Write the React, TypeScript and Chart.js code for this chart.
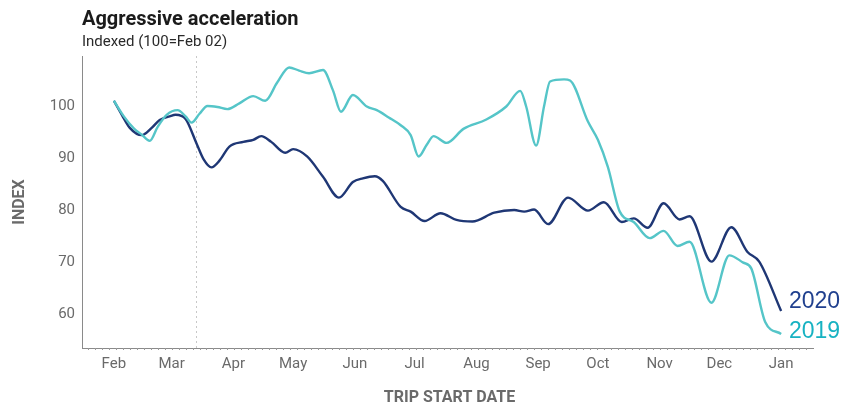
import React, { useEffect, useRef } from "react";
import { Chart, registerables } from "chart.js";

Chart.register(...registerables);

// Day offsets from Feb 1 (2020 calendar), values indexed to 100 = Feb 02
const monthLabels = ["Feb", "Mar", "Apr", "May", "Jun", "Jul", "Aug", "Sep", "Oct", "Nov", "Dec", "Jan"];
const monthStartDays = [0, 29, 60, 90, 121, 151, 182, 213, 243, 274, 304, 335];
const yTicks = [60, 70, 80, 90, 100];
const emergencyDay = 41;

const days2020 = [0, 4, 8, 14, 19, 23, 28, 31, 36, 41.5, 45, 49, 53, 58, 65, 70, 74, 79, 86, 90, 97, 105, 113, 120, 125, 131, 135, 144, 149, 156, 164, 172, 180, 191, 201, 206, 211, 218, 228, 238, 246, 255, 261, 268, 276, 284, 289, 300, 310, 318, 324, 335];
const values2020 = [101, 98.3, 95.8, 94.4, 95.8, 97.3, 98.0, 98.3, 97.5, 92.8, 89.8, 88.2, 89.5, 92.2, 93.1, 93.5, 94.2, 93.1, 91.0, 91.7, 90.3, 86.4, 82.4, 85.4, 86.1, 86.5, 85.6, 80.6, 79.7, 77.9, 79.4, 78.1, 77.8, 79.5, 80.0, 79.7, 80.1, 77.3, 82.4, 79.9, 81.5, 77.7, 78.4, 76.6, 81.3, 78.2, 78.8, 70.1, 76.7, 72.0, 70.1, 60.6];

const days2019 = [0, 5, 10, 14, 18, 22, 26.5, 32, 36, 39, 43, 47, 52, 57, 63, 70, 76, 82, 88, 93, 98, 105, 110, 114, 120, 127, 132, 138, 144, 149, 153, 157, 160.5, 167, 175.5, 187, 197, 204, 207, 212, 216, 219, 226, 229, 238, 243, 248, 254, 261, 269, 276, 283, 289, 300, 309, 316, 320, 327, 335];
const values2019 = [101, 98, 95.7, 94.5, 93.3, 96, 98.3, 99.2, 98, 96.8, 98.5, 100, 99.8, 99.4, 100.5, 101.9, 101, 104.5, 107.4, 106.8, 106.3, 106.9, 103, 98.9, 102.1, 99.9, 99.2, 97.8, 96.3, 94.4, 90.3, 92.5, 94.2, 92.9, 95.6, 97.4, 99.9, 102.9, 99.9, 92.4, 100, 104.7, 105.1, 104.9, 97.0, 93.5, 88.3, 79.7, 77.7, 74.6, 76.0, 73.1, 73.9, 62.2, 71.3, 69.9, 68.8, 58.5, 56.2];

const NAVY = "#1f3775";
const NAVY_LABEL = "#20408e";
const TEAL = "#55c5c8";
const TEAL_LABEL = "#17b2c2";
const GRAY = "#6a6a6a";

const overlayPlugin = {
  id: "overlay",
  beforeDatasetsDraw(chart: any) {
    const { ctx, chartArea, scales } = chart;
    const x = scales.x.getPixelForValue(emergencyDay);
    ctx.save();
    ctx.strokeStyle = "#c8c8c8";
    ctx.lineWidth = 1;
    ctx.setLineDash([2, 3]);
    ctx.beginPath();
    ctx.moveTo(Math.round(x) + 0.5, chartArea.top);
    ctx.lineTo(Math.round(x) + 0.5, chartArea.bottom);
    ctx.stroke();
    ctx.restore();
  },
  afterDraw(chart: any) {
    const { ctx, chartArea, scales } = chart;
    ctx.save();
    // minor ticks along x axis
    ctx.strokeStyle = "#9a9a9a";
    ctx.lineWidth = 1;
    const xs = scales.x;
    for (let d = xs.min + 3; d < xs.max; d += 3.5) {
      const px = Math.round(xs.getPixelForValue(d)) + 0.5;
      ctx.beginPath();
      ctx.moveTo(px, chartArea.bottom);
      ctx.lineTo(px, chartArea.bottom + 2);
      ctx.stroke();
    }
    // title & subtitle
    ctx.fillStyle = "#1b1b1b";
    ctx.textAlign = "left";
    ctx.textBaseline = "alphabetic";
    ctx.font = "bold 20px Roboto";
    ctx.fillText("Aggressive acceleration", 82, 25);
    ctx.fillStyle = "#2a2a2a";
    ctx.font = "15px Roboto";
    ctx.fillText("Indexed (100=Feb 02)", 82, 46);
    // axis titles
    ctx.fillStyle = GRAY;
    ctx.font = "bold 16px Roboto";
    ctx.textAlign = "center";
    ctx.textBaseline = "middle";
    ctx.fillText("TRIP START DATE", (chartArea.left + chartArea.right) / 2 + 2, 398);
    ctx.save();
    ctx.translate(20, 202);
    ctx.rotate(-Math.PI / 2);
    ctx.fillText("INDEX", 0, 0);
    ctx.restore();
    // series end labels
    ctx.textAlign = "left";
    ctx.font = "23px 'Liberation Sans'";
    ctx.fillStyle = NAVY_LABEL;
    ctx.fillText("2020", 789, 302);
    ctx.fillStyle = TEAL_LABEL;
    ctx.fillText("2019", 789, 332);
    ctx.restore();
  },
};

export default function App() {
  const canvasRef = useRef<HTMLCanvasElement | null>(null);

  useEffect(() => {
    document.body.style.margin = "0";
    const canvas = canvasRef.current;
    if (!canvas) return;
    const chart = new Chart(canvas, {
      type: "line",
      data: {
        datasets: [
          {
            label: "2019",
            data: days2019.map((d, i) => ({ x: d, y: values2019[i] })),
            borderColor: TEAL,
            borderWidth: 2.4,
            pointRadius: 0,
            cubicInterpolationMode: "monotone",
            fill: false,
          },
          {
            label: "2020",
            data: days2020.map((d, i) => ({ x: d, y: values2020[i] })),
            borderColor: NAVY,
            borderWidth: 2.4,
            pointRadius: 0,
            cubicInterpolationMode: "monotone",
            fill: false,
          },
        ],
      },
      options: {
        responsive: false,
        animation: false,
        devicePixelRatio: 1,
        layout: { padding: { top: 56, right: 31, bottom: 0, left: 0 } },
        plugins: {
          legend: { display: false },
          tooltip: { enabled: false },
          title: { display: false },
        },
        scales: {
          x: {
            type: "linear",
            min: -16,
            max: 351,
            grid: { display: false, drawTicks: false },
            border: { display: true, color: "#8a8a8a", width: 1 },
            afterBuildTicks: (scale: any) => {
              scale.ticks = monthStartDays.map((v) => ({ value: v }));
            },
            afterFit: (scale: any) => {
              scale.height = 61;
            },
            ticks: {
              autoSkip: false,
              maxRotation: 0,
              padding: 7,
              color: GRAY,
              font: { family: "Roboto", size: 15 },
              callback: (v: any) => {
                const i = monthStartDays.indexOf(Number(v));
                return i >= 0 ? monthLabels[i] : "";
              },
            },
          },
          y: {
            min: 53.5,
            max: 109.6,
            grid: { display: false, drawTicks: false },
            border: { display: true, color: "#8a8a8a", width: 1 },
            afterBuildTicks: (scale: any) => {
              scale.ticks = yTicks.map((v) => ({ value: v }));
            },
            afterFit: (scale: any) => {
              scale.width = 82;
            },
            ticks: {
              padding: 7,
              color: GRAY,
              font: { family: "Roboto", size: 15 },
            },
          },
        },
      },
      plugins: [overlayPlugin],
    } as any);
    return () => chart.destroy();
  }, []);

  return (
    <div style={{ width: 844, height: 409, background: "#fff" }}>
      <canvas ref={canvasRef} width={844} height={409} style={{ display: "block" }} />
    </div>
  );
}
